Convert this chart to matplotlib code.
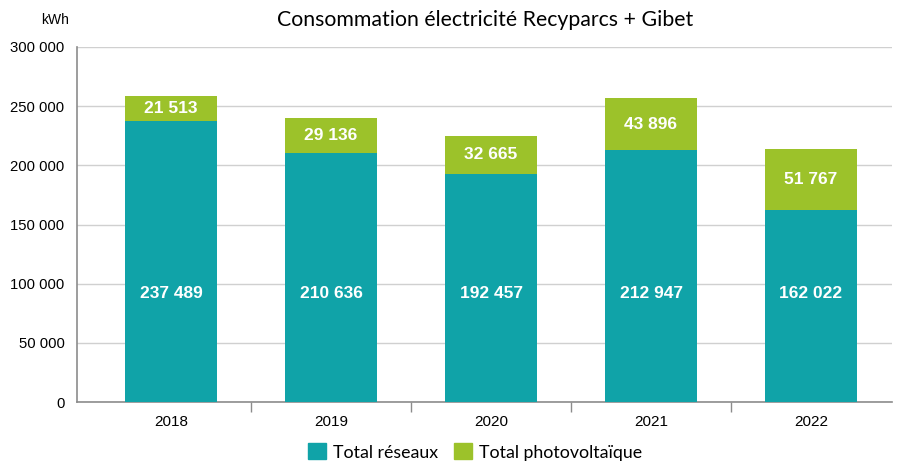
import matplotlib.pyplot as plt
import numpy as np

# Données
annees = ["2018", "2019", "2020", "2021", "2022"]
reseaux = [237489, 210636, 192457, 212947, 162022]
photovoltaique = [21513, 29136, 32665, 43896, 51767]
yticks = [0, 50000, 100000, 150000, 200000, 250000, 300000]

C_RES = "#10a3a8"
C_PV = "#9cc22a"
NUM_FONT = "Liberation Sans"
TXT_FONT = "Lato"


def fmt(v):
    return f"{v:,}".replace(",", " ")


fig = plt.figure(figsize=(8.99, 4.62), dpi=100)
ax = fig.add_axes([77 / 899, 60 / 462, 815 / 899, 355 / 462])

x = np.arange(len(annees))
w = 0.575
ax.bar(x, reseaux, width=w, color=C_RES, zorder=3)
ax.bar(x, photovoltaique, width=w, bottom=reseaux, color=C_PV, zorder=3)

# Étiquettes
label_y = 92000
for xi, r, p in zip(x, reseaux, photovoltaique):
    ax.text(xi, label_y, fmt(r), ha="center", va="center", color="white",
            fontsize=12.5, fontweight="bold", family=NUM_FONT, zorder=4)
    ax.text(xi, r + p / 2, fmt(p), ha="center", va="center", color="white",
            fontsize=12.5, fontweight="bold", family=NUM_FONT, zorder=4)

ax.set_ylim(0, 300000)
ax.set_xlim(-0.5 - 14 / 160, 4.5 + 1 / 160)
ax.set_yticks(yticks)
ax.set_yticklabels([fmt(v) for v in yticks], family=NUM_FONT, fontsize=10.7)
ax.tick_params(axis="y", length=0, pad=9)
ax.grid(axis="y", color="#d0d0d0", linewidth=1, zorder=0)

# Axe x : noms au centre, graduations entre catégories
ax.set_xticks(x)
ax.set_xticklabels(annees, family=NUM_FONT, fontsize=11)
ax.tick_params(axis="x", length=0, pad=9)
ax.set_xticks(np.arange(0.5, len(annees) - 0.5, 1), minor=True)
ax.tick_params(axis="x", which="minor", length=7, color="#8c8c8c", width=1)

for s in ["top", "right"]:
    ax.spines[s].set_visible(False)
for s in ["left", "bottom"]:
    ax.spines[s].set_color("#8c8c8c")
    ax.spines[s].set_linewidth(1.2)

fig.text(485 / 899, 1 - 20 / 462, "Consommation électricité Recyparcs + Gibet",
         ha="center", va="center", fontsize=15.3, family=TXT_FONT)
fig.text(55 / 899, 1 - 20 / 462, "kWh", ha="center", va="center",
         fontsize=10, family=NUM_FONT)

handles = [plt.Rectangle((0, 0), 1, 1, color=C_RES),
           plt.Rectangle((0, 0), 1, 1, color=C_PV)]
fig.legend(handles, ["Total réseaux", "Total photovoltaïque"],
           loc="center", bbox_to_anchor=(475 / 899, 1 - 452 / 462), ncol=2,
           frameon=False, prop={"family": TXT_FONT, "size": 12.8},
           handlelength=1.0, handleheight=1.0, handletextpad=0.4,
           columnspacing=0.9, borderpad=0)

fig.savefig("out.png", dpi=100)
